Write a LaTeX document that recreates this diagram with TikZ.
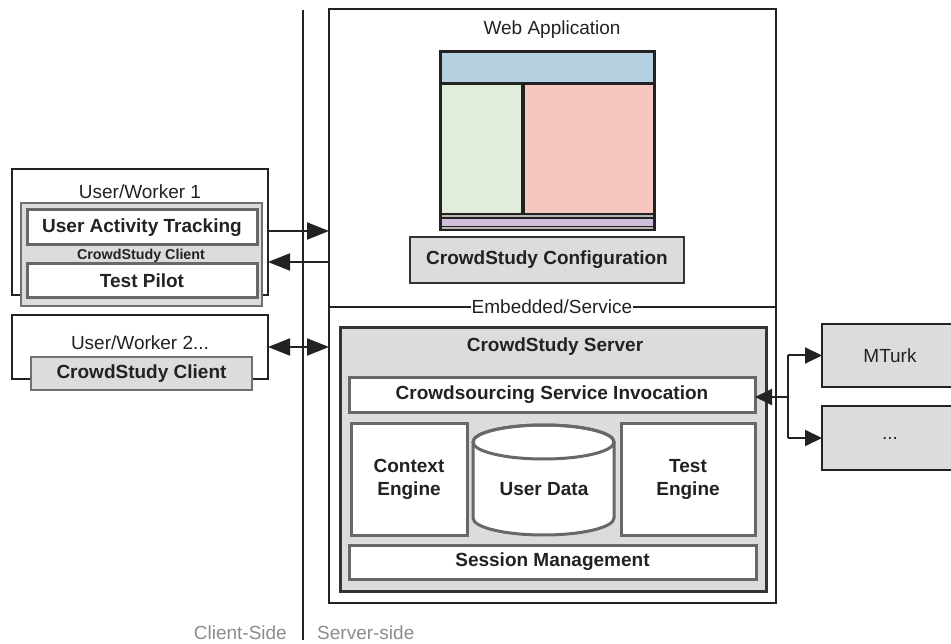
\documentclass[tikz,border=0pt]{standalone}
\usepackage{fontspec}
\setmainfont{Liberation Sans}
\usetikzlibrary{arrows.meta,calc}
\definecolor{ln}{HTML}{222222}
\definecolor{gfill}{HTML}{DCDCDC}
\definecolor{gbord}{HTML}{707070}
\definecolor{ibord}{HTML}{686868}
\definecolor{sbord}{HTML}{333333}
\definecolor{txt}{HTML}{222222}
\definecolor{sidec}{HTML}{8C8C8C}
\definecolor{wblue}{HTML}{B4D0E1}
\definecolor{wgreen}{HTML}{E1EDDA}
\definecolor{wpink}{HTML}{F6C6C1}
\definecolor{wpurple}{HTML}{CFBEDA}
\definecolor{wgray}{HTML}{B5B5B5}
\begin{document}
\begin{tikzpicture}[x=1pt,y=-1pt,
  txtn/.style={font=\fontsize{19}{23}\selectfont, text=txt, inner sep=0pt, align=center},
  boldn/.style={txtn, font=\fontsize{19}{23}\selectfont\bfseries},
  frame/.style={draw=ln, line width=2pt, anchor=north west, inner sep=0pt, outer sep=0pt},
  clientbox/.style={frame, fill=gfill, draw=gbord, line width=2.5pt},
  whitebox/.style={boldn, frame, fill=white, draw=ibord, line width=3pt},
  serverbox/.style={frame, fill=gfill, draw=sbord, line width=3pt},
  graybox/.style={boldn, frame, fill=gfill, draw=sbord, line width=2.5pt},
  extbox/.style={txtn, frame, fill=gfill, draw=ln, line width=2.5pt},
  arr/.style={draw=ln, line width=2pt, -{Triangle[length=22pt,width=17pt]}},
  darr/.style={draw=ln, line width=2pt, {Triangle[length=22pt,width=17pt]}-{Triangle[length=22pt,width=17pt]}},
  sarr/.style={draw=ln, line width=2pt, -{Triangle[length=17pt,width=16pt]}},
  sidetxt/.style={font=\fontsize{19}{23}\selectfont, text=sidec, inner sep=0pt}
]
\useasboundingbox (0,0) rectangle (951,644);

% divider
\coordinate (dtop) at (303,10);
\coordinate (dbot) at (303,640);
\draw[ln, line width=2pt] (dtop) -- (dbot);

% ---- Client side ----
\node[frame, minimum width=256pt, minimum height=126pt] (w1) at (12,169) {};
\node[txtn] (w1lbl) at (140,192) {User/Worker 1};
\node[clientbox, minimum width=241pt, minimum height=103pt] (c1) at (21,203) {};
\node[whitebox, minimum width=230pt, minimum height=35pt] (uat) at (27,210) {User Activity Tracking};
\node[txtn, font=\fontsize{14.3}{16}\selectfont\bfseries] (c1lbl) at (141,256) {CrowdStudy Client};
\node[whitebox, minimum width=230pt, minimum height=34pt] (pilot) at (27,264) {Test Pilot};

\node[frame, minimum width=256pt, minimum height=64pt] (w2) at (12,315) {};
\node[txtn] (w2lbl) at (140,343) {User/Worker 2...};
\node[clientbox, boldn, minimum width=221pt, minimum height=33pt] (c2) at (31,357) {CrowdStudy Client};

% ---- Server side ----
\node[frame, minimum width=447pt, minimum height=594pt] (web) at (329,9) {};
\node[txtn] (weblbl) at (552,30) {Web Application};

% browser mock-up
\node[frame, draw=none, fill=ln, minimum width=217pt, minimum height=181pt] (browser) at (439,50) {};
\fill[wblue] (442,53) rectangle (653,82);
\fill[wgreen] (442,85) rectangle (521,213);
\fill[wpink] (525,85) rectangle (653,213);
\fill[wgray] (442,215) rectangle (653,217);
\fill[wpurple] (442,219) rectangle (653,226);
\fill[wgray] (442,227.5) rectangle (653,229);

\node[graybox, minimum width=274pt, minimum height=46pt] (config) at (410,237) {CrowdStudy Configuration};

% Embedded/Service separator
\coordinate (embline) at (552,307);
\node[txtn, fill=white, inner xsep=1pt, inner ysep=0pt] (emb) at (552,307) {Embedded/Service};
\draw[ln, line width=2pt] (web.west |- embline) -- (emb.west |- embline);
\draw[ln, line width=2pt] (emb.east |- embline) -- (web.east |- embline);

\node[serverbox, minimum width=426pt, minimum height=263pt] (srv) at (340,328) {};
\node[boldn] (srvlbl) at (555,347) {CrowdStudy Server};
\node[whitebox, minimum width=406pt, minimum height=34pt] (csi) at (349,378) {Crowdsourcing Service Invocation};
\node[whitebox, minimum width=116pt, minimum height=112pt] (ctx) at (351,423) {Context\\Engine};
\node[whitebox, minimum width=134pt, minimum height=112pt] (teng) at (621,423) {Test\\Engine};
\node[whitebox, minimum width=407pt, minimum height=34pt] (sess) at (349,545) {Session Management};

% User Data cylinder
\filldraw[fill=white, draw=ibord, line width=3pt]
  (473,442) -- (473,518) arc (180:0:70.5 and 17) -- (614,442) arc (0:-180:70.5 and 17) -- cycle;
\draw[ibord, line width=3pt] (543.5,442) ellipse (70.5 and 17);
\node[boldn] (udata) at (544,489) {User Data};

% external services
\node[extbox, minimum width=136pt, minimum height=63pt] (mturk) at (822,324) {MTurk};
\node[extbox, minimum width=136pt, minimum height=64pt] (dots) at (822,406) {...};

% ---- connectors ----
\coordinate (ya) at (0,231);
\coordinate (yb) at (0,262);
\coordinate (yc) at (0,347);
\draw[arr] (w1.east |- ya) -- (web.west |- ya);
\draw[arr] (web.west |- yb) -- (w1.east |- yb);
\draw[darr] (w2.east |- yc) -- (web.west |- yc);

\coordinate (bus) at (788,397);
\draw[ln, line width=2pt] (bus |- mturk.west) -- (bus |- dots.west);
\draw[sarr] (bus |- mturk.west) -- (mturk.west);
\draw[sarr] (bus |- dots.west) -- (dots.west);
\draw[sarr] (bus) -- (csi.east |- bus);

% side labels
\node[sidetxt, anchor=base east] (cside) at (287,639) {Client-Side};
\node[sidetxt, anchor=base west] (sside) at (317,639) {Server-side};
\end{tikzpicture}
\end{document}
